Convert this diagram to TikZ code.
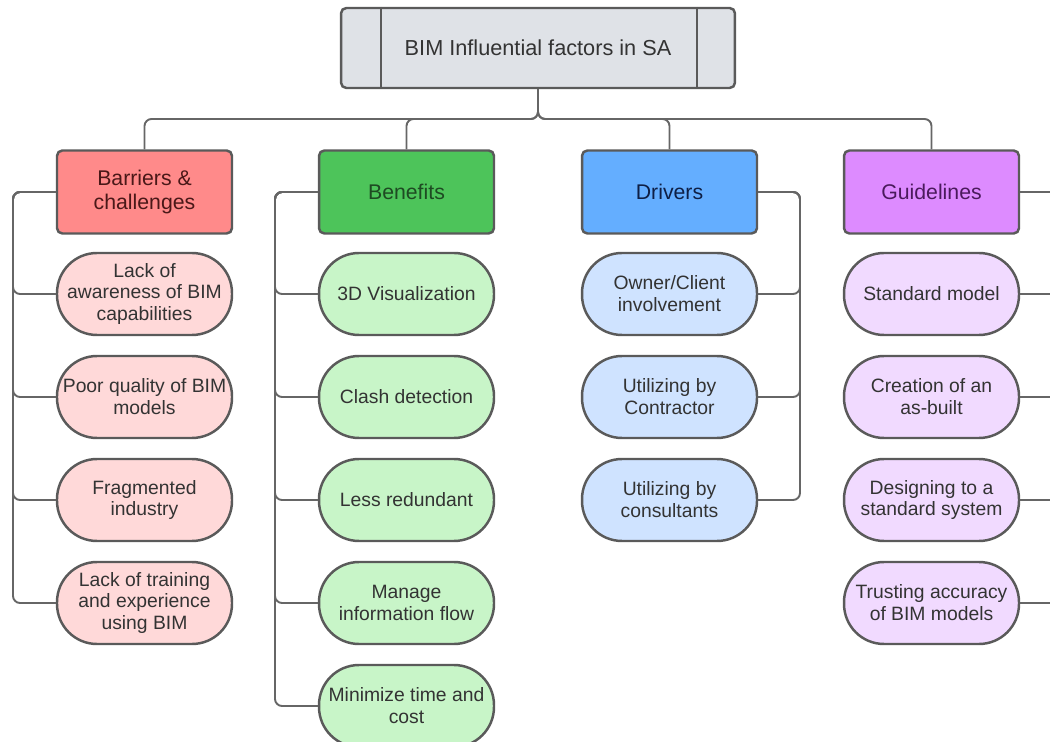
\documentclass[tikz,border=0pt]{standalone}
\usepackage{fontspec}
\setmainfont{Liberation Sans}
\definecolor{bordc}{HTML}{5A5A5A}
\definecolor{connc}{HTML}{666666}
\definecolor{rootfill}{HTML}{DFE2E7}
\definecolor{redc}{HTML}{FF8A8A}
\definecolor{redl}{HTML}{FFD9D9}
\definecolor{redt}{HTML}{4A1818}
\definecolor{greenc}{HTML}{4DC45A}
\definecolor{greenl}{HTML}{C8F5C8}
\definecolor{greent}{HTML}{1E4A22}
\definecolor{bluec}{HTML}{64AEFF}
\definecolor{bluel}{HTML}{CFE3FF}
\definecolor{bluet}{HTML}{0E1F45}
\definecolor{purc}{HTML}{DD8BFF}
\definecolor{purl}{HTML}{F1DAFF}
\definecolor{purt}{HTML}{4A1A5C}
\definecolor{childtext}{HTML}{333333}
\begin{document}
\begin{tikzpicture}[x=0.02cm,y=-0.02cm,
  catbox/.style={draw=bordc, line width=1.4pt, rounded corners=3pt, minimum width=3.5cm, minimum height=1.66cm, align=center, inner sep=0pt, font=\fontsize{12.1}{13.8}\selectfont},
  pill/.style={draw=bordc, line width=1.4pt, rounded corners=0.8cm, minimum width=3.5cm, minimum height=1.64cm, align=center, inner sep=0pt, font=\fontsize{11}{12.5}\selectfont, text=childtext},
  conn/.style={draw=connc, line width=1.1pt, rounded corners=4pt}]
\useasboundingbox (0,0) rectangle (1050,742);
\clip (0,0) rectangle (1050,742);

% root
\node[draw=bordc, line width=1.4pt, rounded corners=3pt, fill=rootfill, minimum width=7.88cm, minimum height=1.6cm, inner sep=0pt, text=childtext, font=\fontsize{12.35}{14}\selectfont] (root) at (538,48) {BIM Influential factors in SA};
\draw[draw=bordc, line width=1.4pt] ([xshift=0.82cm]root.north west) -- ([xshift=0.82cm]root.south west);
\draw[draw=bordc, line width=1.4pt] ([xshift=-0.78cm]root.north east) -- ([xshift=-0.78cm]root.south east);

% categories
\node[catbox, fill=redc, text=redt] (barr) at (144.5,192) {Barriers \&\\challenges};
\node[catbox, fill=greenc, text=greent] (ben) at (406.5,192) {Benefits};
\node[catbox, fill=bluec, text=bluet] (drv) at (669.5,192) {Drivers};
\node[catbox, fill=purc, text=purt] (gui) at (931.5,192) {Guidelines};

% barriers children
\node[pill, fill=redl] (b1) at (144.5,294) {Lack of\\awareness of BIM\\capabilities};
\node[pill, fill=redl] (b2) at (144.5,397) {Poor quality of BIM\\models};
\node[pill, fill=redl] (b3) at (144.5,500) {Fragmented\\industry};
\node[pill, fill=redl] (b4) at (144.5,603) {Lack of training\\and experience\\using BIM};

% benefits children
\node[pill, fill=greenl] (e1) at (406.5,294) {3D Visualization};
\node[pill, fill=greenl] (e2) at (406.5,397) {Clash detection};
\node[pill, fill=greenl] (e3) at (406.5,500) {Less redundant};
\node[pill, fill=greenl] (e4) at (406.5,603) {Manage\\information flow};
\node[pill, fill=greenl] (e5) at (406.5,706) {Minimize time and\\cost};

% drivers children
\node[pill, fill=bluel] (d1) at (669.5,294) {Owner/Client\\involvement};
\node[pill, fill=bluel] (d2) at (669.5,397) {Utilizing by\\Contractor};
\node[pill, fill=bluel] (d3) at (669.5,500) {Utilizing by\\consultants};

% guidelines children
\node[pill, fill=purl] (g1) at (931.5,294) {Standard model};
\node[pill, fill=purl] (g2) at (931.5,397) {Creation of an\\as-built};
\node[pill, fill=purl] (g3) at (931.5,500) {Designing to a\\standard system};
\node[pill, fill=purl] (g4) at (931.5,603) {Trusting accuracy\\of BIM models};

% root connectors
\coordinate (hbar) at (538,119);
\foreach \c in {barr,ben,drv,gui}
  \draw[conn] (root.south) -- (hbar) -| (\c.north);

% column connectors
\coordinate (bx) at (13,0);
\coordinate (ex) at (275,0);
\coordinate (dx) at (800,0);
\coordinate (gx) at (1062,0);
\foreach \n in {b1,b2,b3,b4}
  \draw[conn] (barr.west) -| (bx |- \n.west) -- (\n.west);
\foreach \n in {e1,e2,e3,e4,e5}
  \draw[conn] (ben.west) -| (ex |- \n.west) -- (\n.west);
\foreach \n in {d1,d2,d3}
  \draw[conn] (drv.east) -| (dx |- \n.east) -- (\n.east);
\foreach \n in {g1,g2,g3,g4}
  \draw[conn] (gui.east) -| (gx |- \n.east) -- (\n.east);
\end{tikzpicture}
\end{document}
